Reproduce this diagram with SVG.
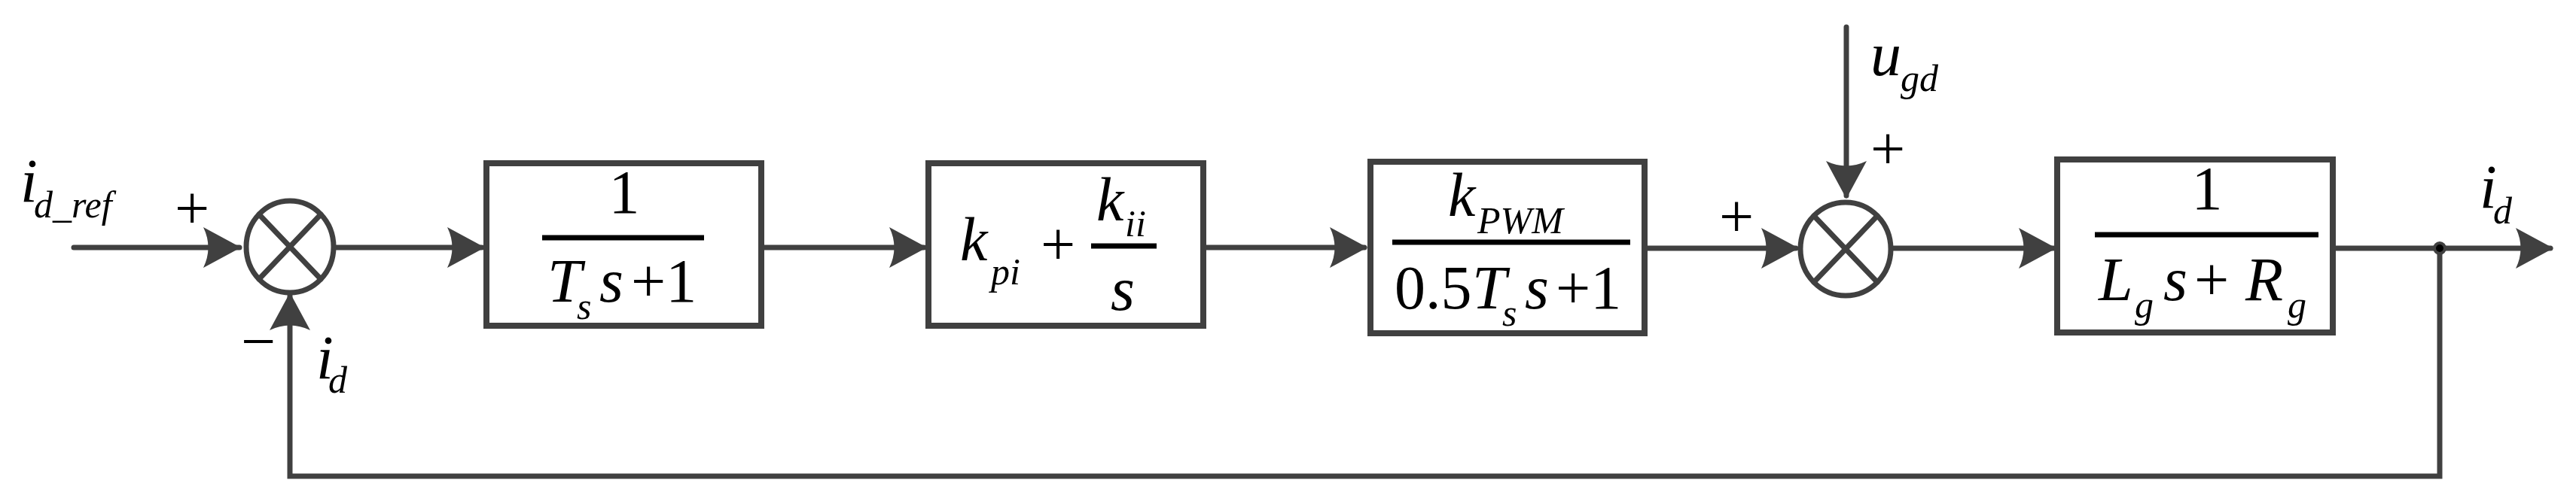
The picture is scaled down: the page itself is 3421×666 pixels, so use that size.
<svg xmlns="http://www.w3.org/2000/svg" width="3421" height="666" viewBox="0 0 3421 666">
<style>
.ln{stroke:#404040;stroke-width:7;fill:none;stroke-linecap:round}
.bx{stroke:#404040;stroke-width:8;fill:#fff}
.fr{stroke:#000;stroke-width:7}
text{font-family:'Liberation Serif','Times New Roman','DejaVu Serif',serif;fill:#000}
.t{font-style:italic;font-size:82px}
.n{font-size:82px}
.s{font-style:italic;font-size:50px}
.ah{fill:#404040}
</style>
<defs><path id="ah" d="M0,0 L-50,-27 Q-37,0 -50,27 Z"/></defs>
<rect width="3421" height="666" fill="#fff"/>
<g id="connectors">
<line class="ln" x1="98" y1="329" x2="318" y2="329"/>
<line class="ln" x1="446" y1="329" x2="640" y2="329"/>
<line class="ln" x1="1011" y1="329" x2="1227" y2="329"/>
<line class="ln" x1="1598" y1="329" x2="1812" y2="329"/>
<line class="ln" x1="2184" y1="330" x2="2385" y2="330"/>
<line class="ln" x1="2452" y1="36" x2="2452" y2="260"/>
<line class="ln" x1="2514" y1="330" x2="2727" y2="330"/>
<line class="ln" x1="3098" y1="330" x2="3387" y2="330"/>
<polyline class="ln" points="3240,330 3240,633 385,633 385,393"/>
<circle cx="3240" cy="330" r="7" fill="#000" stroke="#404040" stroke-width="4"/>
<use href="#ah" class="ah" transform="translate(320,329)"/>
<use href="#ah" class="ah" transform="translate(644,329)"/>
<use href="#ah" class="ah" transform="translate(1231,329)"/>
<use href="#ah" class="ah" transform="translate(1816,329)"/>
<use href="#ah" class="ah" transform="translate(2389,330)"/>
<use href="#ah" class="ah" transform="translate(2731,330)"/>
<use href="#ah" class="ah" transform="translate(3391,330)"/>
<use href="#ah" class="ah" transform="translate(385,389) rotate(-90)"/>
<use href="#ah" class="ah" transform="translate(2452,264) rotate(90)"/>
</g>
<g id="sum1">
<ellipse class="ln" cx="385" cy="328" rx="58" ry="61"/>
<line class="ln" x1="344" y1="285" x2="426" y2="371"/>
<line class="ln" x1="426" y1="285" x2="344" y2="371"/>
</g>
<g id="sum2">
<ellipse class="ln" cx="2451" cy="331" rx="60" ry="62"/>
<line class="ln" x1="2409" y1="287" x2="2493" y2="375"/>
<line class="ln" x1="2493" y1="287" x2="2409" y2="375"/>
</g>
<g id="box1">
<rect class="bx" x="646" y="217" width="365" height="216"/>
<text class="n" x="829" y="283" text-anchor="middle">1</text>
<line class="fr" x1="720" y1="316" x2="935" y2="316"/>
<text class="t" x="727" y="401">T</text><text class="s" x="766" y="424">s</text><text class="t" x="796" y="401">s</text><text class="n" x="838" y="401">+1</text>
</g>
<g id="box2">
<rect class="bx" x="1233" y="217" width="365" height="216"/>
<text class="t" x="1275" y="346">k</text><text class="s" x="1316" y="378">pi</text>
<text class="n" x="1382" y="352">+</text>
<line class="fr" x1="1449" y1="327" x2="1536" y2="327"/>
<text class="t" x="1456" y="293">k</text><text class="s" x="1494" y="314">ii</text>
<text class="t" x="1475" y="412">s</text>
</g>
<g id="box3">
<rect class="bx" x="1820" y="215" width="364" height="228"/>
<text class="t" x="1923" y="287">k</text><text class="s" x="1962" y="310">PWM</text>
<line class="fr" x1="1849" y1="322" x2="2165" y2="322"/>
<text class="n" x="1852" y="410">0.5</text><text class="t" x="1955" y="410">T</text><text class="s" x="1995" y="433">s</text><text class="t" x="2025" y="410">s</text><text class="n" x="2066" y="410">+1</text>
</g>
<g id="box4">
<rect class="bx" x="2732" y="212" width="366" height="230"/>
<text class="n" x="2931" y="278" text-anchor="middle">1</text>
<line class="fr" x1="2782" y1="312" x2="3079" y2="312"/>
<text class="t" x="2787" y="399">L</text><text class="s" x="2835" y="422">g</text><text class="t" x="2873" y="399">s</text><text class="n" x="2914" y="399">+</text><text class="t" x="2982" y="399">R</text><text class="s" x="3038" y="422">g</text>
</g>
<g id="labels">
<text class="t" x="27" y="268">i</text><text class="s" x="45" y="289">d_ref</text>
<text class="n" x="232" y="304" font-size="70">+</text>
<text class="n" x="320" y="481" font-size="70">−</text>
<text class="t" x="420" y="503">i</text><text class="s" x="436" y="522">d</text>
<text class="n" x="2283" y="315" font-size="70">+</text>
<text class="t" x="2484" y="100">u</text><text class="s" x="2524" y="121">gd</text>
<text class="n" x="2484" y="225" font-size="70">+</text>
<text class="t" x="3293" y="276">i</text><text class="s" x="3311" y="297">d</text>
</g>
</svg>
